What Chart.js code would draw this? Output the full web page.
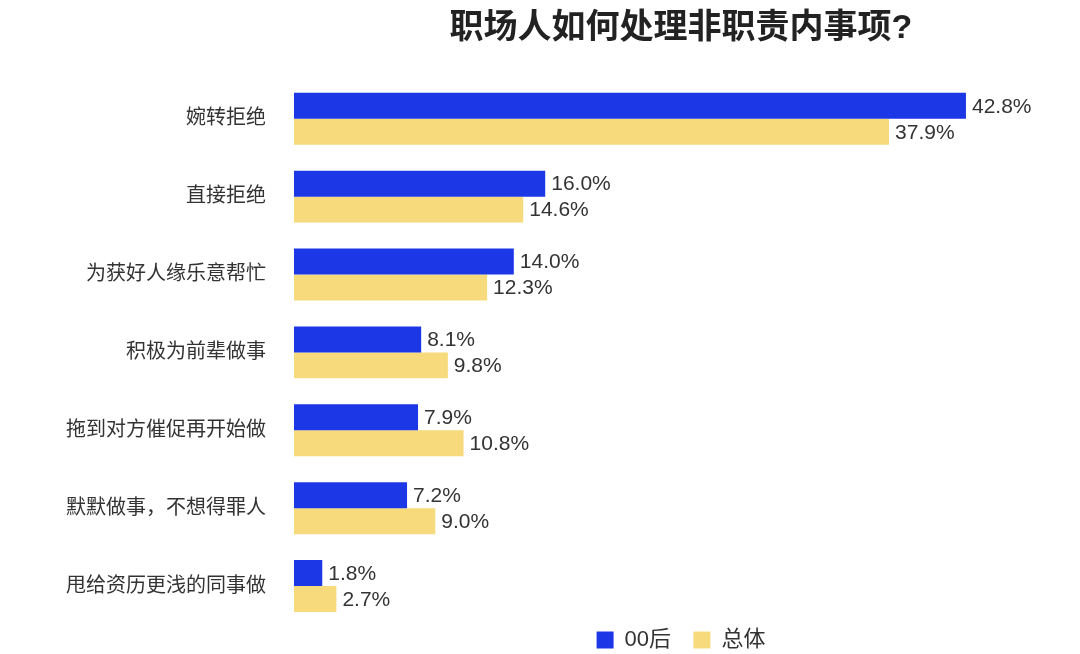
<!DOCTYPE html>
<html>
<head>
<meta charset="utf-8">
<script src="https://cdn.jsdelivr.net/npm/chart.js@4"></script>
<style>
  html, body { margin: 0; padding: 0; background: #fff; }
  #wrap { width: 1080px; height: 654px; }
</style>
</head>
<body>
<div id="wrap"><canvas id="chart" width="1080" height="654"></canvas></div>
<script>
// categories, top to bottom
const categories = [
  "婉转拒绝",
  "直接拒绝",
  "为获好人缘乐意帮忙",
  "积极为前辈做事",
  "拖到对方催促再开始做",
  "默默做事，不想得罪人",
  "甩给资历更浅的同事做",
];
const gen00 = [42.8, 16.0, 14.0, 8.1, 7.9, 7.2, 1.8];
const overall = [37.9, 14.6, 12.3, 9.8, 10.8, 9.0, 2.7];
const seriesNames = ["00后", "总体"];

const FONT = "'Liberation Sans', 'Noto Sans CJK SC', sans-serif";

// draws "xx.x%" at the end of each bar
const valueLabels = {
  id: "valueLabels",
  afterDatasetsDraw(chart) {
    const { ctx } = chart;
    ctx.save();
    ctx.font = `21px ${FONT}`;
    ctx.fillStyle = "#333";
    ctx.textAlign = "left";
    ctx.textBaseline = "middle";
    chart.data.datasets.forEach((ds, i) => {
      chart.getDatasetMeta(i).data.forEach((bar, j) => {
        ctx.fillText(ds.data[j].toFixed(1) + "%", bar.x + 6, bar.y + 1);
      });
    });
    ctx.restore();
  },
};

new Chart(document.getElementById("chart"), {
  type: "bar",
  data: {
    labels: categories,
    datasets: [
      {
        label: seriesNames[0],
        data: gen00,
        backgroundColor: "#1b37e6",
        categoryPercentage: 0.667,
        barPercentage: 1,
      },
      {
        label: seriesNames[1],
        data: overall,
        backgroundColor: "#f6da7c",
        categoryPercentage: 0.667,
        barPercentage: 1,
      },
    ],
  },
  options: {
    indexAxis: "y",
    responsive: false,
    animation: false,
    layout: {
      padding: { left: 38, right: 12, top: 2, bottom: 0 },
    },
    plugins: {
      title: {
        display: true,
        fullSize: false,
        text: "职场人如何处理非职责内事项?",
        color: "#222",
        font: { family: FONT, size: 34, weight: "bold" },
        padding: { top: 6, bottom: 31 },
      },
      legend: {
        position: "bottom",
        fullSize: false,
        maxHeight: 27,
        labels: {
          boxWidth: 17,
          boxHeight: 17,
          padding: 4,
          color: "#333",
          font: { family: FONT, size: 22 },
          // tight vertical padding, so widen the gap between items with spaces
          generateLabels(chart) {
            const items = Chart.defaults.plugins.legend.labels.generateLabels(chart);
            items.forEach((it, i) => {
              if (i < items.length - 1) it.text += "   ";
            });
            return items;
          },
        },
      },
      tooltip: { enabled: false },
    },
    scales: {
      x: {
        display: false,
        min: 0,
        max: 49.3,
      },
      y: {
        grid: { display: false, drawTicks: false },
        border: { display: false },
        ticks: {
          padding: 28,
          color: "#333",
          // small lineHeight keeps the axis from reserving space below the last bar
          font: { family: FONT, size: 20, lineHeight: 0.1 },
        },
      },
    },
  },
  plugins: [valueLabels],
});
</script>
</body>
</html>
